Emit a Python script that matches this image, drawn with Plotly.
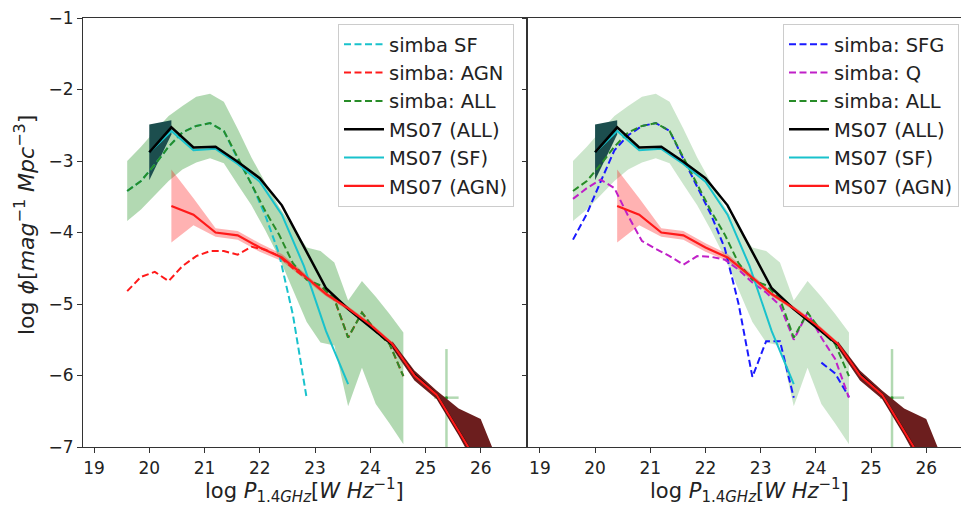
import plotly.graph_objects as go

# ---------------- data ----------------
simba_logp = [19.6, 19.85, 20.1, 20.35, 20.6, 20.85, 21.1, 21.35, 21.6, 21.85, 22.1,
              22.35, 22.6, 22.85, 23.1, 23.35, 23.6, 23.85, 24.1, 24.35, 24.6]
simba_all = [-3.42, -3.28, -3.05, -2.80, -2.60, -2.51, -2.47, -2.58, -2.95, -3.32, -3.70,
             -4.03, -4.43, -4.66, -4.74, -4.93, -5.47, -5.12, -5.38, -5.56, -6.01]
simba_all_hi = [-3.00, -2.80, -2.58, -2.37, -2.23, -2.10, -2.06, -2.17, -2.55, -2.95, -3.30,
                -3.64, -3.93, -4.21, -4.26, -4.42, -4.95, -4.68, -4.90, -5.14, -5.40]
simba_all_lo = [-3.84, -3.68, -3.48, -3.28, -3.12, -3.02, -2.96, -3.03, -3.33, -3.62, -3.97,
                -4.35, -4.80, -5.25, -5.54, -5.58, -6.43, -5.89, -6.40, -6.67, -6.96]
simba_sf = [-3.42, -3.28, -3.05, -2.80, -2.60, -2.51, -2.47, -2.58, -2.97, -3.32, -3.76,
            -4.30, -5.15, -6.32, None, None, None, None, None, None, None]
simba_agn = [-4.82, -4.62, -4.55, -4.68, -4.47, -4.33, -4.26, -4.26, -4.31, -4.20, -4.24,
             -4.33, -4.50, -4.65, -4.75, -4.93, -5.47, -5.12, -5.38, -5.56, -6.01]
simba_sfg = [-4.10, -3.74, -3.29, -2.85, -2.64, -2.51, -2.47, -2.58, -2.97, -3.35, -3.75,
             -4.22, -5.00, -6.02, -5.52, -5.52, -6.31, None, -5.82, -5.97, -6.30]
simba_q = [-3.53, -3.38, -3.26, -3.38, -3.77, -4.12, -4.23, -4.33, -4.45, -4.33, -4.34,
           -4.38, -4.52, -4.70, -4.84, -5.02, -5.50, -5.12, -5.47, -5.77, -6.31]

# single high-power simba bin with error bars
simba_bin_logp = [25.38]
simba_bin_phi = [-6.31]
simba_bin_xerr = [0.22]
simba_bin_yerr_up = [0.68]
simba_bin_yerr_down = [1.5]

ms07_logp = [20.0, 20.4, 20.8, 21.2, 21.6, 22.0, 22.4, 22.8, 23.2, 23.6,
             24.0, 24.4, 24.8, 25.2, 25.6, 26.0, 26.4]
ms07_all = [-2.88, -2.53, -2.81, -2.80, -3.01, -3.24, -3.62, -4.21, -4.78, -5.07,
            -5.32, -5.57, -5.99, -6.27, -6.78, -7.28, -7.80]
ms07_all_hi = [-2.49, -2.43, -2.76, -2.77, -2.98, -3.21, -3.59, -4.18, -4.75, -5.04,
               -5.29, -5.52, -5.93, -6.21, -6.46, -6.61, -7.37]
ms07_all_lo = [-3.27, -2.63, -2.86, -2.83, -3.04, -3.27, -3.65, -4.24, -4.81, -5.10,
               -5.35, -5.62, -6.07, -6.33, -6.84, -7.40, -7.90]
ms07_sf_logp = [20.0, 20.4, 20.8, 21.2, 21.6, 22.0, 22.4, 22.8, 23.2, 23.6]
ms07_sf = [-2.88, -2.58, -2.85, -2.83, -3.04, -3.29, -3.75, -4.47, -5.38, -6.12]
ms07_agn_logp = [20.4, 20.8, 21.2, 21.6, 22.0, 22.4, 22.8, 23.2, 23.6,
                 24.0, 24.4, 24.8, 25.2, 25.6, 26.0, 26.4]
ms07_agn = [-3.63, -3.75, -4.00, -4.04, -4.21, -4.35, -4.60, -4.86, -5.06,
            -5.29, -5.56, -6.00, -6.27, -6.78, -7.28, -7.80]
ms07_agn_hi = [-3.12, -3.52, -3.94, -3.98, -4.15, -4.30, -4.56, -4.83, -5.03,
               -5.26, -5.53, -5.96, -6.24, -6.74, -7.24, -7.76]
ms07_agn_lo = [-4.14, -3.90, -4.06, -4.10, -4.27, -4.40, -4.64, -4.89, -5.09,
               -5.32, -5.59, -6.04, -6.30, -6.82, -7.32, -7.84]

x_ticks = [19, 20, 21, 22, 23, 24, 25, 26]
y_ticks = [-7, -6, -5, -4, -3, -2, -1]

# ---------------- styling ----------------
FONT = "DejaVu Sans"
C_CYAN = "#19c2cc"
C_RED = "#ff1a1a"
C_GREEN = "rgb(40,140,40)"
C_BLUE = "#1a1aff"
C_MAG = "#c020c8"
DASH = "7px,3.5px"

fig = go.Figure()


def band(x, hi, lo, color, xa, ya):
    fig.add_trace(go.Scatter(
        x=list(x) + list(x)[::-1], y=list(hi) + list(lo)[::-1],
        fill="toself", fillcolor=color, line=dict(width=0), mode="lines",
        hoverinfo="skip", showlegend=False, xaxis=xa, yaxis=ya))


def line(x, y, name, color, width, dash, xa, ya, leg, grp):
    fig.add_trace(go.Scatter(
        x=x, y=y, name=name, mode="lines",
        line=dict(color=color, width=width, dash=dash),
        xaxis=xa, yaxis=ya, legend=leg, legendgroup=grp, connectgaps=False))


panels = [
    dict(xa="x", ya="y", leg="legend", band_alpha=0.3,
         simba=[(simba_sf, "simba SF", C_CYAN), (simba_agn, "simba: AGN", C_RED),
                (simba_all, "simba: ALL", C_GREEN)]),
    dict(xa="x2", ya="y2", leg="legend2", band_alpha=0.2,
         simba=[(simba_sfg, "simba: SFG", C_BLUE), (simba_q, "simba: Q", C_MAG),
                (simba_all, "simba: ALL", C_GREEN)]),
]

for p in panels:
    xa, ya, leg = p["xa"], p["ya"], p["leg"]
    band(simba_logp, simba_all_hi, simba_all_lo, f"rgba(0,128,0,{p['band_alpha']})", xa, ya)
    fig.add_trace(go.Scatter(
        x=simba_bin_logp, y=simba_bin_phi, mode="markers",
        marker=dict(color="rgba(0,128,0,0.7)", size=3),
        error_x=dict(type="data", array=simba_bin_xerr, color="rgba(0,128,0,0.3)",
                     thickness=2.5, width=0),
        error_y=dict(type="data", symmetric=False, array=simba_bin_yerr_up,
                     arrayminus=simba_bin_yerr_down, color="rgba(0,128,0,0.3)",
                     thickness=2.5, width=0),
        showlegend=False, hoverinfo="skip", xaxis=xa, yaxis=ya))
    band(ms07_agn_logp, ms07_agn_hi, ms07_agn_lo, "rgba(255,0,0,0.3)", xa, ya)
    # MS07 (ALL) uncertainty: faint-end and bright-end parts
    band(ms07_logp[:2], ms07_all_hi[:2], ms07_all_lo[:2], "rgb(28,78,78)", xa, ya)
    band(ms07_logp[11:], ms07_all_hi[11:], ms07_all_lo[11:], "rgb(108,30,30)", xa, ya)

    for i, (vals, name, col) in enumerate(p["simba"]):
        line(simba_logp, vals, name, col, 2, DASH, xa, ya, leg, f"{leg}_s{i}")
    line(ms07_sf_logp, ms07_sf, "MS07 (SF)", C_CYAN, 2, "solid", xa, ya, leg, f"{leg}_m1")
    line(ms07_logp, ms07_all, "MS07 (ALL)", "black", 2.5, "solid", xa, ya, leg, f"{leg}_m0")
    line(ms07_agn_logp, ms07_agn, "MS07 (AGN)", C_RED, 2.2, "solid", xa, ya, leg, f"{leg}_m2")

# legend order per reference
order = {"simba SF": 0, "simba: SFG": 0, "simba: AGN": 1, "simba: Q": 1, "simba: ALL": 2,
         "MS07 (ALL)": 3, "MS07 (SF)": 4, "MS07 (AGN)": 5}
for tr in fig.data:
    if tr.name in order:
        tr.legendrank = order[tr.name] + 1

W, H = 961, 505
ML, MR, MT, MB = 83, 0, 18, 58
PW = W - ML - MR
PH = H - MT - MB
dom1 = [0, (526 - ML) / PW]
dom2 = [(528.3 - ML) / PW, 1]

axis_common = dict(
    showline=True, linecolor="#333", linewidth=1.2, ticks="outside", ticklen=5,
    tickcolor="#333", tickwidth=1.2, showgrid=False, zeroline=False,
    tickfont=dict(family=FONT, size=17, color="#222"),
)

legend_common = dict(
    font=dict(family=FONT, size=19.5, color="#222"), bgcolor="rgba(255,255,255,0.85)",
    bordercolor="#cccccc", borderwidth=1, xanchor="left", yanchor="top",
    tracegroupgap=0, itemwidth=40, traceorder="normal",
)

fig.update_layout(
    width=W, height=H, margin=dict(l=ML, r=MR, t=MT, b=MB),
    paper_bgcolor="white", plot_bgcolor="white",
    font=dict(family=FONT, color="#222"),
    xaxis=dict(domain=dom1, range=[18.8, 26.82], tickvals=x_ticks, anchor="y",
               mirror=True, **axis_common),
    yaxis=dict(range=[-7, -1], tickvals=y_ticks, anchor="x", mirror=True, **axis_common),
    xaxis2=dict(domain=dom2, range=[18.79, 26.63], tickvals=x_ticks, anchor="y2",
                mirror=True, **axis_common),
    yaxis2=dict(range=[-7, -1], tickvals=y_ticks, anchor="x2", showticklabels=False,
                **axis_common),
    legend=dict(x=(338 - ML) / PW, y=1 - (24 - MT) / PH, **legend_common),
    legend2=dict(x=(783 - ML) / PW, y=1 - (24 - MT) / PH, **legend_common),
    showlegend=True,
)

S = "<span style='font-size:15px'>"
xtitle = (f"log <i>P</i><sub>{S}1.4<i>GHz</i></span></sub>"
          f"[<i>W Hz</i><sup>{S}−1</span></sup>]")
S2 = "<span style='font-size:16px'>"
ytitle = (f"log <i>ϕ</i>[<i>mag</i><sup>{S2}−1</span></sup> "
          f"<i>Mpc</i><sup>{S2}−3</span></sup>]")
for cx in [(83 + 526) / 2, (528.3 + 971) / 2]:
    fig.add_annotation(text=xtitle, xref="paper", yref="paper",
                       x=(cx - ML) / PW, y=1 - (490 - MT) / PH,
                       xanchor="center", yanchor="middle", showarrow=False,
                       font=dict(family=FONT, size=21, color="#222"))
fig.add_annotation(text=ytitle, xref="paper", yref="paper",
                   x=(24 - ML) / PW, y=1 - (225 - MT) / PH, textangle=-90,
                   xanchor="center", yanchor="middle", showarrow=False,
                   font=dict(family=FONT, size=22, color="#222"))

fig.write_html("out.html", config={"displayModeBar": False},
               post_script="document.body.style.margin='0px';")
